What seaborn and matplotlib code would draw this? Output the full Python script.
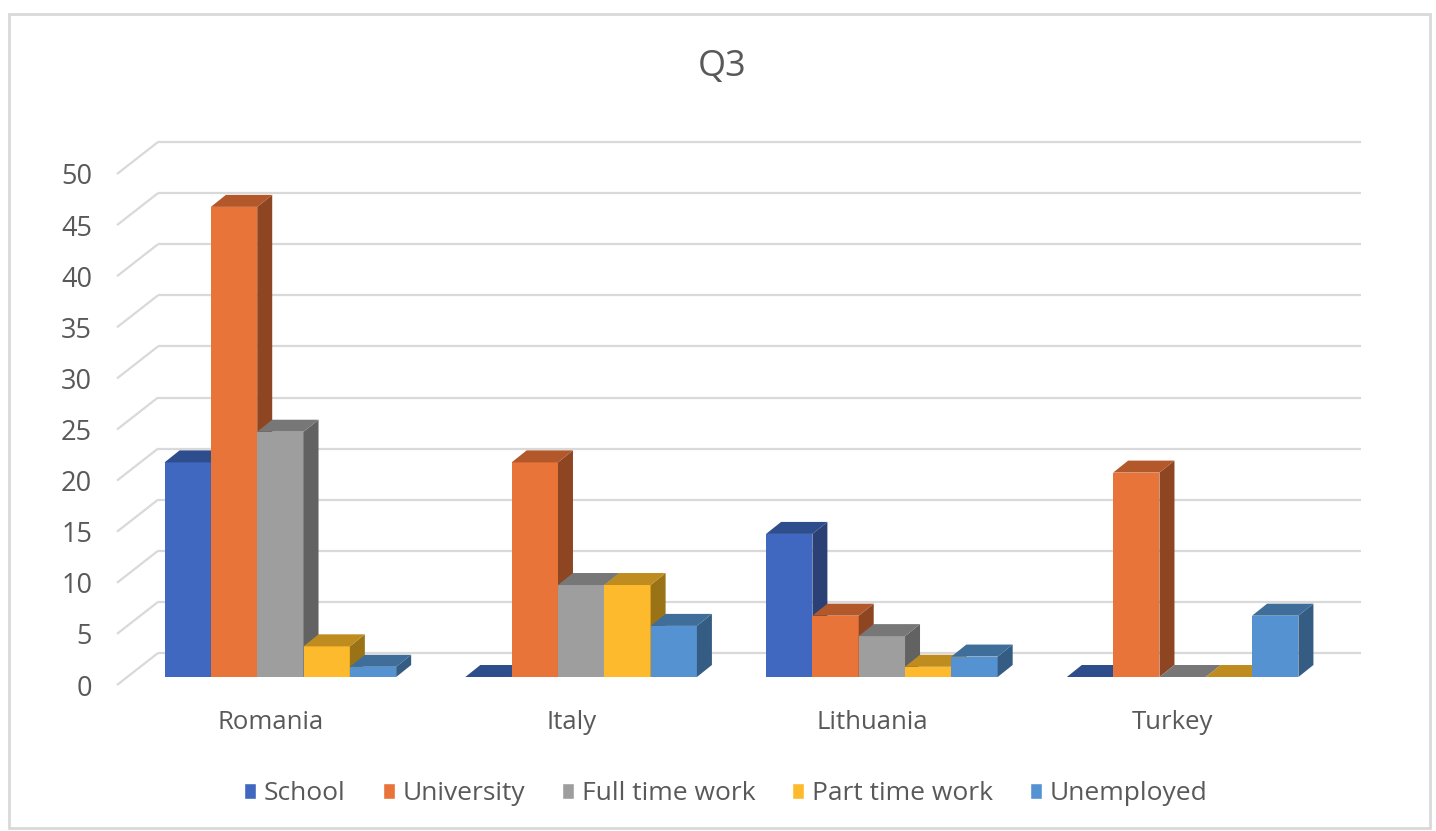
import matplotlib
matplotlib.use('Agg')
import matplotlib.pyplot as plt
import matplotlib.transforms as mtransforms
from matplotlib.patches import Polygon, Patch, Rectangle
import seaborn as sns
import pandas as pd

countries = ['Romania', 'Italy', 'Lithuania', 'Turkey']
groups = ['School', 'University', 'Full time work', 'Part time work', 'Unemployed']
school = [21, 0, 14, 0]
university = [46, 21, 6, 20]
full_time = [24, 9, 4, 0]
part_time = [3, 9, 1, 0]
unemployed = [1, 5, 2, 6]
y_ticks = list(range(0, 55, 5))

front_colors = ['#4168C0', '#E8743A', '#9E9E9E', '#FDBA2C', '#5592D1']
top_colors = ['#2E4D8C', '#B3582A', '#777777', '#BF8C1F', '#3E6E99']
side_colors = ['#2B4176', '#8E4521', '#626262', '#9A7316', '#355C83']
text_color = '#595959'
grid_color = '#D9D9D9'

series = [school, university, full_time, part_time, unemployed]
rows = []
for g, vals in zip(groups, series):
    for c, v in zip(countries, vals):
        rows.append({'Country': c, 'Group': g, 'Value': v})
df = pd.DataFrame(rows)

sns.set_theme(style='white')
plt.rcParams['font.family'] = ['Open Sans', 'DejaVu Sans']

W, H = 1436, 831
fig = plt.figure(figsize=(W / 100, H / 100), dpi=100)
ax = fig.add_axes([120 / W, 146 / H, 1203 / W, 511 / H])

sns.barplot(data=df, x='Country', y='Value', hue='Group', order=countries,
            hue_order=groups, palette=front_colors, width=0.77, saturation=1,
            legend=False, ax=ax)
ax.set_xlim(-0.5, 3.5)
ax.set_ylim(0, 50)

# pixels per data unit, used for the fake 3D depth
ux = 1203 / 4
uy = 511 / 50

# back wall gridlines + the diagonals on the side wall
back_tr = ax.transData + mtransforms.ScaledTranslation(0.38, 0.32, fig.dpi_scale_trans)
ax.hlines(y_ticks, -0.5, 3.5, transform=back_tr, colors=grid_color, lw=1.6,
          zorder=1, clip_on=False)
for yv in y_ticks:
    ax.plot([-0.5 - 3 / ux, -0.5 + 38 / ux], [yv, yv + 32 / uy], color=grid_color,
            lw=1.6, zorder=1, clip_on=False, solid_capstyle='butt')

# bars sit a little behind the front plane; add side and top faces
bar_tr = ax.transData + mtransforms.ScaledTranslation(0.10, 0.08, fig.dpi_scale_trans)
ddx = 15 / ux
ddy = 12 / uy
items = []
for gi, cont in enumerate(ax.containers):
    for p in cont.patches:
        items.append((p.get_x(), gi, p))
items.sort(key=lambda t: t[0])

for k, (x0, gi, p) in enumerate(items):
    w = p.get_width()
    h = p.get_height()
    z = 3 + k * 0.01
    p.set_transform(bar_tr)
    p.set_zorder(z)
    p.set_linewidth(0)
    p.set_clip_on(False)
    side = Polygon([(x0 + w, 0), (x0 + w + ddx, ddy), (x0 + w + ddx, h + ddy), (x0 + w, h)],
                   closed=True, transform=bar_tr, facecolor=side_colors[gi], lw=0,
                   zorder=z, clip_on=False)
    top = Polygon([(x0, h), (x0 + ddx, h + ddy), (x0 + w + ddx, h + ddy), (x0 + w, h)],
                  closed=True, transform=bar_tr, facecolor=top_colors[gi], lw=0,
                  zorder=z, clip_on=False)
    ax.add_patch(side)
    ax.add_patch(top)

ax.set_yticks(y_ticks)
ax.tick_params(axis='y', length=0, pad=20, labelsize=19.5, labelcolor=text_color)
ax.tick_params(axis='x', length=0, pad=18, labelsize=18.5, labelcolor=text_color)
ax.set_xlabel('')
ax.set_ylabel('')
ax.grid(False)
sns.despine(ax=ax, left=True, bottom=True)
ax.patch.set_visible(False)

fig.text(722 / W, 1 - 67 / H, 'Q3', ha='center', va='center', fontsize=26, color=text_color)

handles = [Patch(facecolor=c, label=g) for c, g in zip(front_colors, groups)]
fig.legend(handles=handles, loc='center', bbox_to_anchor=(726 / W, 1 - 794 / H), ncol=5,
           frameon=False, fontsize=19, handlelength=0.45, handleheight=0.55,
           handletextpad=0.3, columnspacing=1.4, labelcolor=text_color)

fig.patches.append(Rectangle((9 / W, 3 / H), 1421 / W, 814 / H, transform=fig.transFigure,
                             fill=False, edgecolor=grid_color, lw=2))

fig.savefig('out.png', dpi=100)
